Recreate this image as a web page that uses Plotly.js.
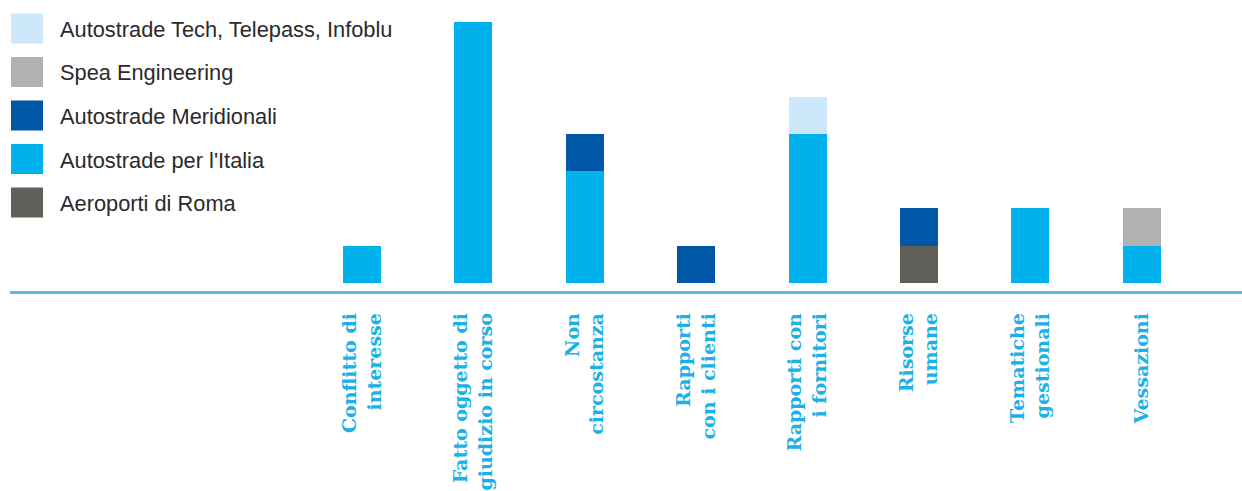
<!DOCTYPE html>
<html>
<head>
<meta charset="utf-8">
<script src="https://cdn.plot.ly/plotly-3.0.1.min.js"></script>
<style>html,body{margin:0;padding:0;background:#fff;}</style>
</head>
<body>
<div id="chart" style="width:1242px;height:491px;"></div>
<script>
const categories = [
  "Conflitto di<br>interesse",
  "Fatto oggetto di<br>giudizio in corso",
  "Non<br>circostanza",
  "Rapporti<br>con i clienti",
  "Rapporti con<br>i fornitori",
  "Risorse<br>umane",
  "Tematiche<br>gestionali",
  "Vessazioni"
];
const aeroportiDiRoma       = [0, 0, 0, 0, 0, 1, 0, 0];
const autostradePerItalia   = [1, 7, 3, 0, 4, 0, 2, 1];
const autostradeMeridionali = [0, 0, 1, 1, 0, 1, 0, 0];
const speaEngineering       = [0, 0, 0, 0, 0, 0, 0, 1];
const autostradeTech        = [0, 0, 0, 0, 1, 0, 0, 0];

const seriesNames = ["Aeroporti di Roma", "Autostrade per l'Italia", "Autostrade Meridionali", "Spea Engineering", "Autostrade Tech, Telepass, Infoblu"];
const seriesValues = [aeroportiDiRoma, autostradePerItalia, autostradeMeridionali, speaEngineering, autostradeTech];
const seriesColors = ["#5f605a", "#00b2eb", "#0057a8", "#b1b1b1", "#cce8fa"];
const legendRanks = [5, 4, 3, 2, 1];

const traces = seriesNames.map((name, i) => ({
  type: "bar",
  name: name,
  x: categories,
  y: seriesValues[i],
  marker: {color: seriesColors[i], line: {width: 0}},
  legendgroup: "g" + i,
  legendrank: legendRanks[i],
  hoverinfo: "x+y+name"
}));

const layout = {
  width: 1242,
  height: 491,
  margin: {l: 10, r: 0, t: 10, b: 200},
  paper_bgcolor: "#ffffff",
  plot_bgcolor: "#ffffff",
  barmode: "stack",
  bargap: 0.659,
  showlegend: true,
  legend: {
    x: 0, y: 1.008, xanchor: "left", yanchor: "top",
    traceorder: "grouped",
    tracegroupgap: 12.2,
    itemwidth: 40,
    font: {family: "Liberation Sans, Arial, sans-serif", size: 21.8, color: "#2a2a2a"},
    bgcolor: "rgba(0,0,0,0)"
  },
  xaxis: {
    type: "category",
    range: [-3.16, 7.9],
    showline: true,
    linecolor: "#5bb8e8",
    linewidth: 2.5,
    showgrid: false,
    zeroline: false,
    ticks: "",
    tickangle: -90,
    ticklabelstandoff: 12,
    tickfont: {family: "DejaVu Serif, serif", size: 19, color: "#1ab0e8", weight: "bold"},
    fixedrange: true
  },
  yaxis: {
    range: [-0.214, 7.32],
    visible: false,
    showgrid: false,
    zeroline: false,
    fixedrange: true
  }
};

Plotly.newPlot("chart", traces, layout, {displayModeBar: false, staticPlot: true}).then(gd => {
  gd.querySelectorAll(".legend .legendpoints path").forEach(p => {
    p.setAttribute("d", "M8,15H-24V-15H8Z");
  });
});
</script>
</body>
</html>
